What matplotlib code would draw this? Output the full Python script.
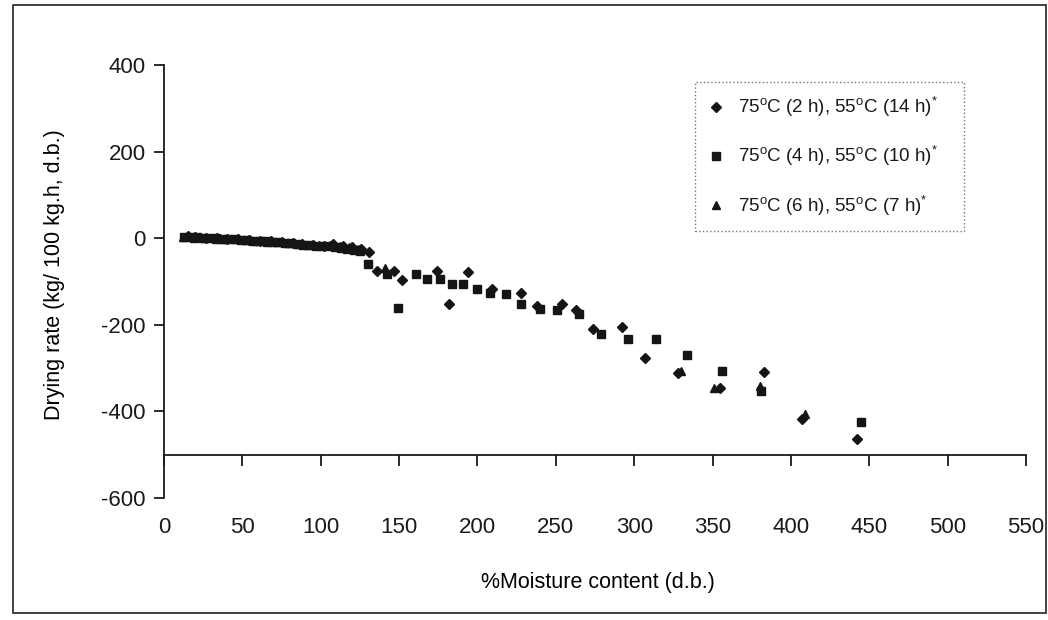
"""
Drying rate vs. moisture content for three two-stage drying schedules
(75 C first stage, 55 C second stage).
"""

import matplotlib
matplotlib.use("Agg")
import matplotlib.pyplot as plt
from matplotlib.patches import Rectangle

plt.rcParams.update({
    "font.family": ["Liberation Sans", "DejaVu Sans"],
    "font.size": 15,
    "mathtext.default": "regular",
    "axes.unicode_minus": False,
    "text.color": "#1a1a1a",
    "axes.edgecolor": "#1a1a1a",
    "xtick.color": "#1a1a1a",
    "ytick.color": "#1a1a1a",
})

INK = "#151515"

# 75 C (2 h), 55 C (14 h)
mc_2h = [15, 20, 27, 34, 40, 47, 54, 61, 68, 75, 82, 88, 95, 102, 108, 114,
         120, 126, 131, 136, 147, 152, 174, 182, 194, 209, 228, 238, 254, 263,
         274, 292, 307, 328, 355, 383, 407, 442]
rate_2h = [4, 2, 1, 0, -2, -3, -5, -6, -7, -9, -12, -13, -15, -17, -14, -17,
           -20, -25, -32, -75, -75, -96, -75, -151, -77, -117, -126, -156, -151,
           -167, -209, -204, -276, -311, -345, -309, -417, -463]

# 75 C (4 h), 55 C (10 h)
mc_4h = [13, 17, 21, 25, 29, 33, 37, 41, 45, 49, 53, 57, 61, 65, 69, 73, 77,
         81, 85, 89, 93, 97, 101, 105, 109, 113, 117, 121, 125, 130, 142, 149,
         161, 168, 176, 184, 191, 200, 208, 218, 228, 240, 251, 265, 279, 296,
         314, 334, 356, 381, 445]
rate_4h = [3, 2, 2, 1, 0, 0, -1, -2, -3, -4, -5, -6, -6, -7, -8, -9, -10,
           -12, -14, -15, -16, -17, -18, -19, -21, -22, -24, -27, -30, -59, -82,
           -161, -82, -94, -94, -105, -105, -117, -126, -130, -151, -163, -165,
           -174, -221, -232, -232, -269, -306, -352, -424]

# 75 C (6 h), 55 C (7 h)
mc_6h = [12, 19, 26, 33, 39, 46, 52, 59, 66, 72, 79, 86, 92, 99, 106, 112,
         118, 124, 141, 330, 351, 380, 409]
rate_6h = [3, 1, 0, -1, -2, -3, -4, -6, -8, -9, -10, -13, -15, -16, -15, -18,
           -21, -26, -70, -306, -345, -341, -405]

series_labels = [
    "75$^{o}$C (2 h), 55$^{o}$C (14 h)$^{*}$",
    "75$^{o}$C (4 h), 55$^{o}$C (10 h)$^{*}$",
    "75$^{o}$C (6 h), 55$^{o}$C (7 h)$^{*}$",
]

x_ticks = list(range(0, 551, 50))
y_ticks = list(range(-600, 401, 200))

fig = plt.figure(figsize=(10.48, 6.2), dpi=100, facecolor="white")
ax = fig.add_axes([0.1565, 0.1968, 0.8225, 0.6984])

ax.plot(mc_2h, rate_2h, ls="none", marker="D", ms=4.8, color=INK,
        label=series_labels[0])
ax.plot(mc_4h, rate_4h, ls="none", marker="s", ms=5.5, color=INK,
        label=series_labels[1])
ax.plot(mc_6h, rate_6h, ls="none", marker="^", ms=6, color=INK,
        label=series_labels[2])

ax.set_xlim(0, 550)
ax.set_ylim(-600, 400)
ax.set_xticks(x_ticks)
ax.set_yticks(y_ticks)

# category axis crosses the value axis at -500, labels stay at the bottom
for side in ("top", "right"):
    ax.spines[side].set_visible(False)
ax.spines["bottom"].set_position(("data", -500))
ax.spines["left"].set_linewidth(1.3)
ax.spines["bottom"].set_linewidth(1.3)
ax.tick_params(axis="y", direction="out", length=7, width=1.3, pad=6,
               labelsize=16)
ax.tick_params(axis="x", direction="out", length=8, width=1.3, pad=37,
               labelsize=16)

ax.set_xlabel("%Moisture content (d.b.)", fontsize=15.5, va="center")
ax.xaxis.set_label_coords(0.503, -0.196)
ax.set_ylabel("Drying rate (kg/ 100 kg.h, d.b.)", fontsize=15.5, va="center")
ax.yaxis.set_label_coords(-0.1265, 0.515)

leg = fig.legend(
    loc="upper left", bbox_to_anchor=(0.663, 0.65, 0.257, 0.218),
    mode="expand", fontsize=13.5, frameon=True, fancybox=False,
    edgecolor="#555555", labelspacing=1.35, borderpad=0.7,
    handlelength=0.9, handletextpad=0.7, borderaxespad=0,
)
leg.get_frame().set_linestyle(":")
leg.get_frame().set_linewidth(1.0)

# chart-area border
fig.patches.append(Rectangle((0.0124, 0.0113), 0.9857, 0.981,
                             transform=fig.transFigure, fill=False,
                             edgecolor="#222222", linewidth=1.2))

fig.savefig("out.png", dpi=100, facecolor="white")
